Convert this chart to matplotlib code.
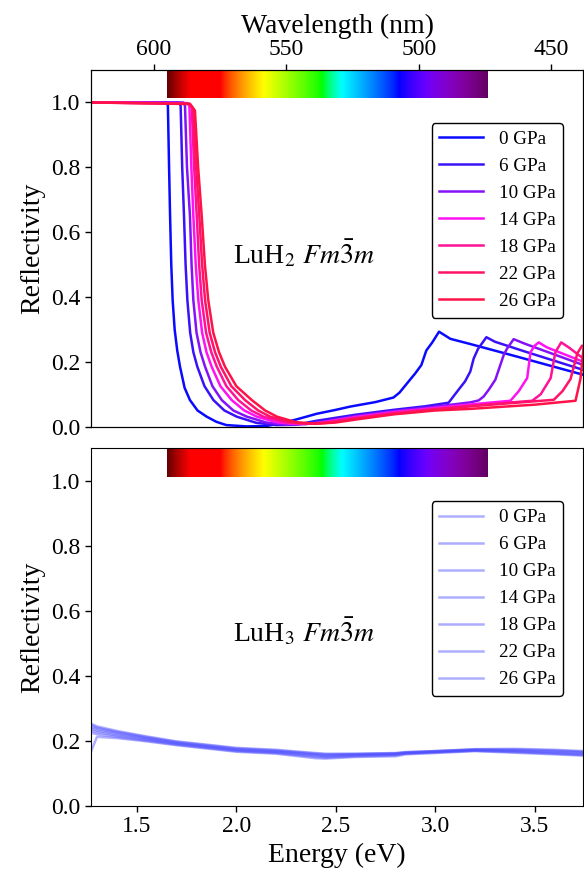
import numpy as np
import matplotlib
matplotlib.use("Agg")
import matplotlib.pyplot as plt

plt.rcParams["font.family"] = ["Liberation Serif", "DejaVu Serif"]
plt.rcParams["mathtext.fontset"] = "stix"

pressures = ["0 GPa", "6 GPa", "10 GPa", "14 GPa", "18 GPa", "22 GPa", "26 GPa"]
colors_h2 = ["#0a0aff", "#3a12f8", "#8412f8", "#ff12f2", "#ff1296", "#ff1268", "#ff1248"]

# LuH2 reflectivity, one (energy, R) list per pressure
e_h2_0 = [1.268, 1.650, 1.656, 1.662, 1.667, 1.673, 1.680, 1.690, 1.703, 1.717, 1.740, 1.767,
          1.805, 1.851, 1.900, 1.950, 2.050, 2.150, 2.220, 2.300, 2.405, 2.500, 2.572, 2.700,
          2.790, 2.820, 2.860, 2.900, 2.930, 2.955, 2.985, 3.019, 3.076, 3.176, 3.400, 3.745]
r_h2_0 = [1.000, 1.000, 0.990, 0.800, 0.650, 0.500, 0.390, 0.300, 0.235, 0.185, 0.120, 0.082,
          0.050, 0.031, 0.015, 0.005, 0.001, 0.002, 0.010, 0.022, 0.040, 0.052, 0.062, 0.076,
          0.090, 0.105, 0.135, 0.165, 0.190, 0.235, 0.260, 0.293, 0.271, 0.255, 0.218, 0.160]

e_h2_6 = [1.268, 1.712, 1.720, 1.728, 1.737, 1.745, 1.754, 1.768, 1.784, 1.804, 1.840, 1.885,
          1.940, 2.002, 2.100, 2.200, 2.300, 2.400, 2.600, 2.790, 2.950, 3.067, 3.117, 3.150,
          3.176, 3.193, 3.215, 3.257, 3.300, 3.450, 3.745]
r_h2_6 = [1.000, 1.000, 0.990, 0.800, 0.650, 0.500, 0.390, 0.290, 0.230, 0.185, 0.125, 0.082,
          0.050, 0.031, 0.012, 0.005, 0.006, 0.018, 0.037, 0.052, 0.063, 0.074, 0.114, 0.140,
          0.170, 0.210, 0.240, 0.276, 0.262, 0.232, 0.175]

e_h2_10 = [1.268, 1.733, 1.742, 1.752, 1.767, 1.775, 1.784, 1.800, 1.820, 1.843, 1.880, 1.927,
           1.985, 2.053, 2.150, 2.250, 2.350, 2.450, 2.600, 2.790, 3.000, 3.176, 3.218, 3.243,
           3.270, 3.302, 3.344, 3.360, 3.394, 3.450, 3.745]
r_h2_10 = [1.000, 1.000, 0.990, 0.800, 0.650, 0.500, 0.390, 0.290, 0.230, 0.185, 0.125, 0.082,
           0.050, 0.031, 0.013, 0.006, 0.008, 0.017, 0.033, 0.048, 0.062, 0.075, 0.081, 0.093,
           0.115, 0.145, 0.221, 0.240, 0.270, 0.256, 0.190]

e_h2_14 = [1.268, 1.752, 1.764, 1.774, 1.784, 1.796, 1.809, 1.828, 1.850, 1.876, 1.920, 1.977,
           2.040, 2.103, 2.200, 2.300, 2.400, 2.500, 2.600, 2.790, 3.000, 3.200, 3.378, 3.420,
           3.462, 3.479, 3.500, 3.520, 3.560, 3.745]
r_h2_14 = [1.000, 0.998, 0.990, 0.800, 0.650, 0.500, 0.390, 0.290, 0.230, 0.185, 0.125, 0.082,
           0.050, 0.031, 0.014, 0.008, 0.010, 0.020, 0.030, 0.045, 0.058, 0.070, 0.080, 0.110,
           0.150, 0.230, 0.250, 0.260, 0.245, 0.200]

e_h2_18 = [1.268, 1.760, 1.776, 1.788, 1.801, 1.813, 1.826, 1.848, 1.874, 1.902, 1.950, 2.010,
           2.075, 2.136, 2.250, 2.350, 2.450, 2.600, 2.790, 3.000, 3.200, 3.487, 3.530, 3.580,
           3.604, 3.633, 3.670, 3.745]
r_h2_18 = [1.000, 0.997, 0.985, 0.800, 0.650, 0.500, 0.390, 0.290, 0.230, 0.185, 0.125, 0.082,
           0.050, 0.031, 0.013, 0.009, 0.013, 0.027, 0.042, 0.055, 0.066, 0.080, 0.100, 0.150,
           0.230, 0.260, 0.245, 0.210]

e_h2_22 = [1.268, 1.765, 1.784, 1.798, 1.814, 1.828, 1.843, 1.866, 1.893, 1.922, 1.975, 2.044,
           2.110, 2.170, 2.280, 2.380, 2.480, 2.600, 2.790, 3.000, 3.200, 3.596, 3.640, 3.680,
           3.714, 3.738, 3.745]
r_h2_22 = [1.000, 0.996, 0.980, 0.800, 0.650, 0.500, 0.390, 0.290, 0.230, 0.185, 0.125, 0.082,
           0.050, 0.031, 0.013, 0.009, 0.013, 0.025, 0.040, 0.053, 0.064, 0.083, 0.110, 0.147,
           0.226, 0.250, 0.248]

e_h2_26 = [1.268, 1.768, 1.792, 1.808, 1.826, 1.842, 1.859, 1.884, 1.913, 1.943, 2.000, 2.078,
           2.145, 2.204, 2.300, 2.400, 2.500, 2.600, 2.790, 3.000, 3.176, 3.500, 3.705, 3.730,
           3.745]
r_h2_26 = [1.000, 0.995, 0.975, 0.800, 0.650, 0.500, 0.390, 0.290, 0.230, 0.185, 0.125, 0.082,
           0.050, 0.031, 0.014, 0.009, 0.013, 0.022, 0.038, 0.050, 0.055, 0.068, 0.080, 0.148,
           0.240]

e_h2 = [e_h2_0, e_h2_6, e_h2_10, e_h2_14, e_h2_18, e_h2_22, e_h2_26]
r_h2 = [r_h2_0, r_h2_6, r_h2_10, r_h2_14, r_h2_18, r_h2_22, r_h2_26]

# LuH3 reflectivity on a shared energy grid
e_h3 = [1.268, 1.30, 1.40, 1.55, 1.70, 1.85, 2.00, 2.20, 2.40, 2.45, 2.60, 2.80, 2.85,
        3.00, 3.20, 3.40, 3.60, 3.745]
r_h3_0 = [0.165, 0.212, 0.208, 0.198, 0.186, 0.176, 0.166, 0.160, 0.146, 0.145, 0.150, 0.152,
          0.158, 0.162, 0.168, 0.163, 0.158, 0.154]
r_h3_6 = [0.225, 0.220, 0.212, 0.200, 0.188, 0.178, 0.168, 0.162, 0.150, 0.148, 0.152, 0.155,
          0.160, 0.164, 0.169, 0.165, 0.160, 0.156]
r_h3_10 = [0.232, 0.226, 0.216, 0.203, 0.190, 0.180, 0.170, 0.164, 0.153, 0.151, 0.154, 0.157,
           0.161, 0.165, 0.170, 0.167, 0.162, 0.158]
r_h3_14 = [0.238, 0.231, 0.220, 0.206, 0.192, 0.182, 0.172, 0.166, 0.156, 0.153, 0.156, 0.159,
           0.162, 0.166, 0.171, 0.169, 0.165, 0.161]
r_h3_18 = [0.243, 0.236, 0.224, 0.208, 0.194, 0.184, 0.174, 0.168, 0.158, 0.156, 0.158, 0.160,
           0.163, 0.167, 0.172, 0.171, 0.167, 0.164]
r_h3_22 = [0.248, 0.240, 0.227, 0.211, 0.196, 0.186, 0.176, 0.170, 0.160, 0.158, 0.159, 0.161,
           0.164, 0.168, 0.173, 0.173, 0.170, 0.166]
r_h3_26 = [0.253, 0.244, 0.230, 0.213, 0.198, 0.188, 0.178, 0.172, 0.162, 0.160, 0.160, 0.162,
           0.165, 0.168, 0.174, 0.175, 0.172, 0.168]
r_h3 = [r_h3_0, r_h3_6, r_h3_10, r_h3_14, r_h3_18, r_h3_22, r_h3_26]

e_min, e_max = 1.268, 3.745
wl_top = (623.9, 437.8)
wl_ticks = [600, 550, 500, 450]
spec_nm = (380, 750)


def wavelength_to_rgb(wl, gamma=0.8):
    """Approximate visible colour for a wavelength in nm."""
    if wl < 440:
        r, g, b = -(wl - 440) / (440 - 380), 0.0, 1.0
    elif wl < 490:
        r, g, b = 0.0, (wl - 440) / (490 - 440), 1.0
    elif wl < 510:
        r, g, b = 0.0, 1.0, -(wl - 510) / (510 - 490)
    elif wl < 580:
        r, g, b = (wl - 510) / (580 - 510), 1.0, 0.0
    elif wl < 645:
        r, g, b = 1.0, -(wl - 645) / (645 - 580), 0.0
    else:
        r, g, b = 1.0, 0.0, 0.0
    if wl < 420:
        f = 0.3 + 0.7 * (wl - 380) / (420 - 380)
    elif wl > 700:
        f = 0.3 + 0.7 * (750 - wl) / (750 - 700)
    else:
        f = 1.0
    return [(c * f) ** gamma for c in (r, g, b)]


e_lo, e_hi = 1240.0 / spec_nm[1], 1240.0 / spec_nm[0]
spec_e = np.linspace(e_lo, e_hi, 600)
spectrum = np.array([[wavelength_to_rgb(1240.0 / e) for e in spec_e]])


def add_spectrum(ax):
    ax.imshow(spectrum, extent=[e_lo, e_hi, 1.013, 1.1], aspect="auto",
              interpolation="bilinear", zorder=1)


fig = plt.figure(figsize=(5.84, 8.71), dpi=100)
ax1 = fig.add_axes([0.1553, 0.5101, 0.8438, 0.4095])
ax2 = fig.add_axes([0.1553, 0.0750, 0.8438, 0.4103])

for e, r, c, lab in zip(e_h2, r_h2, colors_h2, pressures):
    ax1.plot(e, r, color=c, lw=1.8, label=lab, zorder=2)
for r, lab in zip(r_h3, pressures):
    ax2.plot(e_h3, r, color=(0.3, 0.3, 1.0), alpha=0.45, lw=1.8, label=lab, zorder=2)

for ax, name in [(ax1, r"LuH$_2$ $Fm\bar{3}m$"), (ax2, r"LuH$_3$ $Fm\bar{3}m$")]:
    ax.set_xlim(e_min, e_max)
    ax.set_ylim(0, 1.1)
    add_spectrum(ax)
    ax.set_yticks([0.0, 0.2, 0.4, 0.6, 0.8, 1.0])
    ax.set_ylabel("Reflectivity", fontsize=20)
    ax.tick_params(labelsize=17, length=4, width=1, direction="out")
    ax.text(0.433, 0.487, name, transform=ax.transAxes, fontsize=20,
            ha="center", va="center")
    leg = ax.legend(loc="upper right", bbox_to_anchor=(0.959, 0.852), borderaxespad=0,
                    fontsize=13.8, handlelength=2.3, frameon=True, framealpha=1,
                    edgecolor="black", fancybox=True)
    leg.get_frame().set_linewidth(1.0)

ax2.set_xticks([1.5, 2.0, 2.5, 3.0, 3.5])
ax2.set_xlabel("Energy (eV)", fontsize=20)

# wavelength scale along the top of the upper panel
ax_wl = ax1.twiny()
ax_wl.set_xlim(*wl_top)
ax_wl.set_xticks(wl_ticks)
ax_wl.tick_params(labelsize=17, length=4, width=1)
ax_wl.set_xlabel("Wavelength (nm)", fontsize=20)
ax1.tick_params(axis="x", bottom=False, labelbottom=False)

fig.savefig("out.png", dpi=100)
